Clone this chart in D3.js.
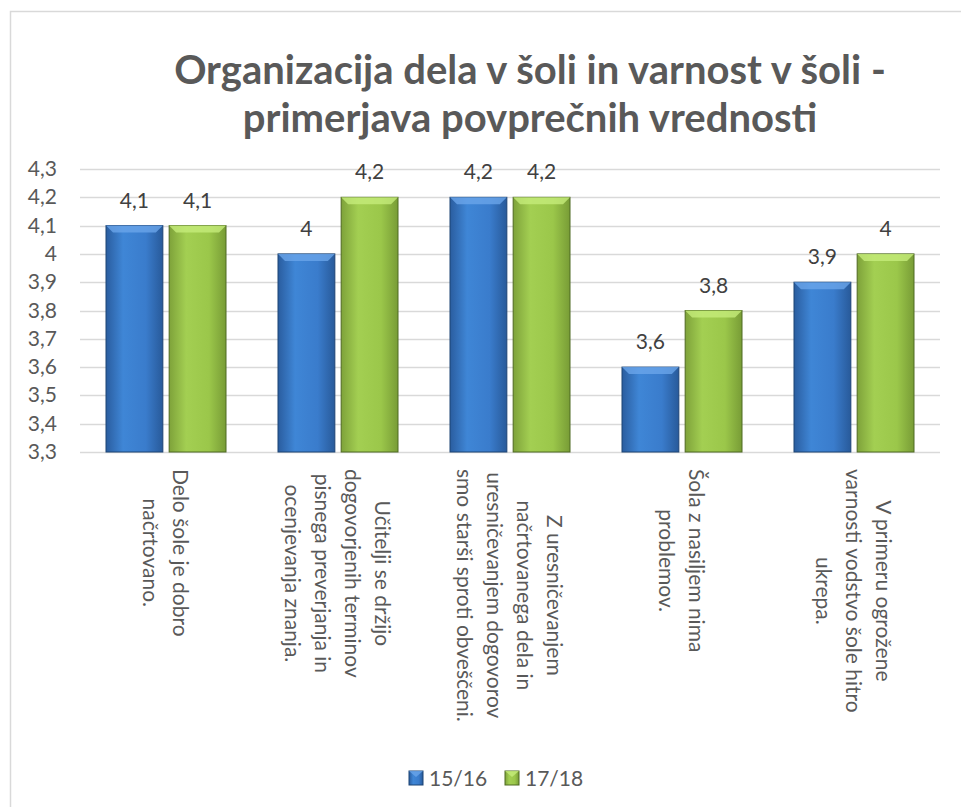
<!DOCTYPE html>
<html>
<head>
<meta charset="utf-8">
<script src="https://cdn.jsdelivr.net/npm/d3@7"></script>
<style>
  body { margin: 0; background: #fff; }
  text { font-family: Lato, "Noto Sans", sans-serif; }
</style>
</head>
<body>
<div id="chart"></div>
<script>
// Chart data
var categories = [
  ["Delo šole je dobro", "načrtovano."],
  ["Učitelji se držijo", "dogovorjenih terminov", "pisnega preverjanja in", "ocenjevanja znanja."],
  ["Z uresničevanjem", "načrtovanega dela in", "uresničevanjem dogovorov", "smo starši sproti obveščeni."],
  ["Šola z nasiljem nima", "problemov."],
  ["V primeru ogrožene", "varnosti vodstvo šole hitro", "ukrepa."]
];
var series = ["15/16", "17/18"];
var values1516 = [4.1, 4.0, 4.2, 3.6, 3.9];
var values1718 = [4.1, 4.2, 4.2, 3.8, 4.0];
var yTicks = [3.3, 3.4, 3.5, 3.6, 3.7, 3.8, 3.9, 4.0, 4.1, 4.2, 4.3];
var titleLines = ["Organizacija dela v šoli in varnost v šoli -", "primerjava povprečnih vrednosti"];

const width = 961;
const height = 807;
const plot = {left: 80, right: 940, top: 169, bottom: 452};
const fs = 21;

const svg = d3.select("#chart")
              .append("svg")
              .attr("width", width)
              .attr("height", height);

// gradients for the bars
var defs = svg.append("defs");
var palettes = [
  {id: "gBlue", stops: ["#2a5d9f", "#3f86d6", "#3a7ccc", "#285a9a"], bevel: "#6aa5ea", stroke: "#1d4475"},
  {id: "gGreen", stops: ["#7ea23a", "#a3cf52", "#9bc74a", "#789c36"], bevel: "#c6ec7a", stroke: "#4f6a22"}
];
palettes.forEach(function(p) {
  var g = defs.append("linearGradient").attr("id", p.id).attr("x1", 0).attr("x2", 1).attr("y1", 0).attr("y2", 0);
  [0, 0.3, 0.7, 1].forEach(function(o, i) {
    g.append("stop").attr("offset", o).attr("stop-color", p.stops[i]);
  });
});

// outer chart border (cropped at right/bottom)
svg.append("rect")
   .attr("x", 10.5).attr("y", 11.5)
   .attr("width", 1000).attr("height", 1000)
   .attr("fill", "none")
   .attr("stroke", "#d9d9d9")
   .attr("stroke-width", 1.5);

// title
svg.append("g")
   .selectAll("text")
   .data(titleLines)
   .enter()
   .append("text")
   .attr("x", 530)
   .attr("y", function(d, i) { return 84 + i * 48; })
   .attr("text-anchor", "middle")
   .attr("font-size", 40)
   .attr("font-weight", "bold")
   .attr("fill", "#595959")
   .text(function(d) { return d; });

// scales
const y = d3.scaleLinear().domain([3.3, 4.3]).range([plot.bottom, plot.top]);
const x0 = d3.scaleBand().domain(d3.range(categories.length)).range([plot.left, plot.right]);
const x1 = d3.scaleBand().domain(series).range([26, x0.bandwidth() - 26]).paddingInner(0.1);

const fmt = function(v) { return d3.format(".1f")(v).replace(".", ",").replace(",0", ""); };

// gridlines
svg.append("g")
   .selectAll("line")
   .data(yTicks)
   .enter()
   .append("line")
   .attr("x1", plot.left).attr("x2", plot.right)
   .attr("y1", function(d) { return Math.round(y(d)) + 0.5; })
   .attr("y2", function(d) { return Math.round(y(d)) + 0.5; })
   .attr("stroke", "#d9d9d9")
   .attr("stroke-width", 1.3);

// y labels
svg.append("g")
   .selectAll("text")
   .data(yTicks)
   .enter()
   .append("text")
   .attr("x", 57)
   .attr("y", function(d) { return y(d) + 7; })
   .attr("text-anchor", "end")
   .attr("font-size", fs)
   .attr("fill", "#595959")
   .text(fmt);

// bars
var rows = categories.map(function(c, i) {
  return [{s: series[0], v: values1516[i], p: palettes[0]}, {s: series[1], v: values1718[i], p: palettes[1]}];
});

var groups = svg.append("g")
   .selectAll("g")
   .data(rows)
   .enter()
   .append("g")
   .attr("transform", function(d, i) { return "translate(" + x0(i) + ",0)"; });

var bars = groups.selectAll("g")
   .data(function(d) { return d; })
   .enter()
   .append("g");

bars.append("rect")
   .attr("x", function(d) { return x1(d.s); })
   .attr("y", function(d) { return y(d.v); })
   .attr("width", x1.bandwidth())
   .attr("height", function(d) { return y(3.3) - y(d.v); })
   .attr("fill", function(d) { return "url(#" + d.p.id + ")"; })
   .attr("stroke", function(d) { return d.p.stroke; })
   .attr("stroke-width", 1);

// top bevel
bars.append("path")
   .attr("d", function(d) {
     var l = x1(d.s), r = l + x1.bandwidth(), t = y(d.v), b = 7;
     return "M" + l + "," + t + "L" + r + "," + t + "L" + (r - b) + "," + (t + b) + "L" + (l + b) + "," + (t + b) + "Z";
   })
   .attr("fill", function(d) { return d.p.bevel; })
   .attr("opacity", 0.8);

// data labels
bars.append("text")
   .attr("x", function(d) { return x1(d.s) + x1.bandwidth() / 2; })
   .attr("y", function(d) { return y(d.v) - 18; })
   .attr("text-anchor", "middle")
   .attr("font-size", fs)
   .attr("fill", "#404040")
   .text(function(d) { return fmt(d.v); });

// category labels, rotated, lines centred in the block
var lineGap = 30;
svg.append("g")
   .selectAll("g")
   .data(categories)
   .enter()
   .append("g")
   .attr("transform", function(d, i) {
     var cx = x0(i) + x0.bandwidth() / 2;
     return "translate(" + cx + ",469) rotate(90)";
   })
   .each(function(lines) {
     var g = d3.select(this);
     var tmp = lines.map(function(l) {
       return g.append("text").attr("font-size", fs).attr("fill", "#595959").text(l);
     });
     var widths = tmp.map(function(t) { return t.node().getComputedTextLength(); });
     var maxW = d3.max(widths);
     var n = lines.length;
     tmp.forEach(function(t, j) {
       t.attr("x", maxW / 2)
        .attr("text-anchor", "middle")
        .attr("y", (j - (n - 1) / 2) * lineGap + 8);
     });
   });

// legend
var legend = svg.append("g")
   .selectAll("g")
   .data(series)
   .enter()
   .append("g")
   .attr("transform", function(d, i) { return "translate(" + (409 + i * 96) + ",771)"; });

legend.append("rect")
   .attr("width", 14).attr("height", 14)
   .attr("fill", function(d, i) { return "url(#" + palettes[i].id + ")"; })
   .attr("stroke", function(d, i) { return palettes[i].stroke; });

legend.append("path")
   .attr("d", "M0,0L14,0L7,6Z")
   .attr("fill", function(d, i) { return palettes[i].bevel; })
   .attr("opacity", 0.8);

legend.append("text")
   .attr("x", 20)
   .attr("y", 14.5)
   .attr("font-size", fs)
   .attr("fill", "#595959")
   .text(function(d) { return d; });
</script>
</body>
</html>
